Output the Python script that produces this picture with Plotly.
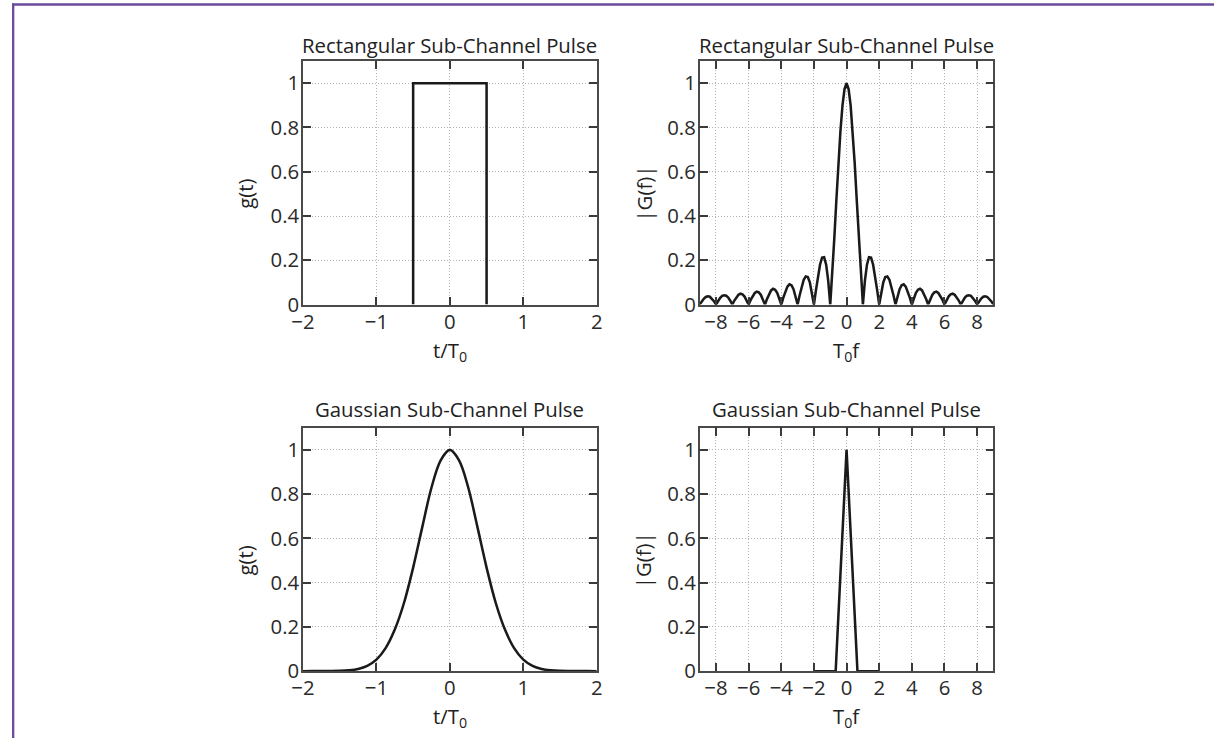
import numpy as np
import plotly.graph_objects as go

# ---------------- data ----------------
# Rectangular pulse g(t)
rect_t = [-0.5, -0.5, 0.5, 0.5]
rect_g = [0, 1, 1, 0]

# |G(f)| of rectangular pulse, sampled every 0.125 for f = 0 .. 9 (symmetric)
rect_G_half = [1.000, 0.974, 0.900, 0.784, 0.637, 0.471, 0.300, 0.139, 0.000,
               0.108, 0.180, 0.214, 0.212, 0.181, 0.129, 0.065, 0.000,
               0.057, 0.100, 0.124, 0.127, 0.112, 0.082, 0.042, 0.000,
               0.039, 0.069, 0.087, 0.091, 0.081, 0.060, 0.031, 0.000,
               0.030, 0.053, 0.067, 0.071, 0.064, 0.047, 0.025, 0.000,
               0.024, 0.043, 0.055, 0.058, 0.052, 0.039, 0.021, 0.000,
               0.020, 0.036, 0.046, 0.049, 0.044, 0.033, 0.018, 0.000,
               0.017, 0.031, 0.040, 0.042, 0.039, 0.029, 0.016, 0.000,
               0.015, 0.027, 0.035, 0.037, 0.034, 0.026, 0.014, 0.000]
rect_f_half = list(np.linspace(0, 9, len(rect_G_half)))

# Gaussian pulse g(t), sampled every 0.125 for t = 0 .. 2 (symmetric)
gauss_g_half = [1.000, 0.953, 0.830, 0.652, 0.468, 0.308, 0.188, 0.104, 0.052,
                0.024, 0.010, 0.004, 0.0015, 0.0005, 0.0002, 0.0001, 0.0000]
gauss_t_half = list(np.linspace(0, 2, len(gauss_g_half)))

# |G(f)| of Gaussian pulse (coarse samples)
gauss_f = [-2, -1.333, -0.667, 0, 0.667, 1.333, 2]
gauss_G = [0, 0, 0, 1, 0, 0, 0]

titles = ["Rectangular Sub-Channel Pulse", "Rectangular Sub-Channel Pulse",
          "Gaussian Sub-Channel Pulse", "Gaussian Sub-Channel Pulse"]
x_titles = ["t/T<sub>0</sub>", "T<sub>0</sub>f", "t/T<sub>0</sub>", "T<sub>0</sub>f"]
y_titles = ["g(t)", "|G(f)|", "g(t)", "|G(f)|"]
t_ticks = [-2, -1, 0, 1, 2]
f_ticks = [-8, -6, -4, -2, 0, 2, 4, 6, 8]
y_ticks = [0, 0.2, 0.4, 0.6, 0.8, 1]


def mirror(xh, yh):
    xs = [-v for v in xh[:0:-1]] + list(xh)
    ys = list(yh[:0:-1]) + list(yh)
    return xs, ys


rect_f, rect_G = mirror(rect_f_half, rect_G_half)
gauss_t, gauss_g = mirror(gauss_t_half, gauss_g_half)

# ---------------- layout geometry ----------------
W, H = 1220, 751
FONT = "Open Sans"
LINE_COL = "#1a1a1a"
# the photographed page comes out slightly reduced and shifted; positions below are
# given in the target picture's pixels and converted to page pixels
SX, OX = 0.986, 10.8
SY, OY = 0.981, 0.0


def tx(p):          # target x pixel -> paper fraction
    return max((p - OX) / SX, 0) / W


def ty(p):          # target y pixel -> paper fraction
    return 1 - ((p - OY) / SY) / H


def sz(v):
    return v / ((SX + SY) / 2)


cols = [(302, 596), (699, 993)]
rows = [(61, 304), (427, 670)]
title_y = [45, 408]
xtitle_y = [350, 716]
ytitle_x = [244, 643]

fig = go.Figure()

series = [(rect_t, rect_g, "linear"), (rect_f, rect_G, "linear"),
          (gauss_t, gauss_g, "spline"), (gauss_f, gauss_G, "linear")]

for i, (xs, ys, shape) in enumerate(series):
    ax = "" if i == 0 else str(i + 1)
    fig.add_trace(go.Scatter(x=xs, y=ys, mode="lines", xaxis="x" + ax, yaxis="y" + ax,
                             line=dict(color=LINE_COL, width=sz(2.5), shape=shape),
                             showlegend=False, hoverinfo="skip"))

common = dict(showline=True, linecolor="#4a4a4a", linewidth=sz(1.5), mirror="ticks",
              ticks="inside", ticklen=sz(8), tickwidth=sz(1.5), tickcolor="#3a3a3a",
              showgrid=True, gridcolor="#b4b4b4", griddash="1px,2px", gridwidth=1,
              zeroline=False, tickfont=dict(family=FONT, size=sz(20), color="#2a2a2a"))

layout = dict(width=W, height=H, margin=dict(l=0, r=0, t=0, b=0, pad=0),
              paper_bgcolor="white", plot_bgcolor="white",
              font=dict(family=FONT, color="#222"))

annotations = []
for i in range(4):
    r, c = divmod(i, 2)
    ax = "" if i == 0 else str(i + 1)
    x0, x1 = cols[c]
    y0, y1 = rows[r]
    if c == 0:
        xr, tv = [-2, 2], t_ticks
    else:
        xr, tv = [-9, 9], f_ticks
    layout["xaxis" + ax] = dict(common, domain=[tx(x0), tx(x1)], range=xr,
                                tickvals=tv, anchor="y" + ax, ticklabelstandoff=-2)
    layout["yaxis" + ax] = dict(common, domain=[ty(y1), ty(y0)], range=[0, 1.1],
                                tickvals=y_ticks, anchor="x" + ax, ticklabelstandoff=-2)
    cx = (x0 + x1) / 2
    annotations.append(dict(text=titles[i], x=tx(cx), y=ty(title_y[r]), xref="paper", yref="paper",
                            showarrow=False, xanchor="center", yanchor="middle",
                            font=dict(family=FONT, size=sz(20), color="#222")))
    annotations.append(dict(text=x_titles[i], x=tx(cx), y=ty(xtitle_y[r]), xref="paper", yref="paper",
                            showarrow=False, xanchor="center", yanchor="middle",
                            font=dict(family=FONT, size=sz(20), color="#222")))
    annotations.append(dict(text=y_titles[i], x=tx(ytitle_x[c]), y=ty((y0 + 22 + y1) / 2), xref="paper",
                            yref="paper", showarrow=False, textangle=-90,
                            xanchor="center", yanchor="middle",
                            font=dict(family=FONT, size=sz(20), color="#222")))

layout["annotations"] = annotations
layout["shapes"] = [
    dict(type="line", xref="paper", yref="paper", x0=0, x1=1, y0=ty(4.5), y1=ty(4.5),
         line=dict(color="#6a4a9c", width=2.3)),
    dict(type="line", xref="paper", yref="paper", x0=1.2 / W, x1=1.2 / W, y0=0, y1=ty(3.5),
         line=dict(color="#6a4a9c", width=2.3)),
]

fig.update_layout(**layout)
fig.write_html("out.html", config={"displayModeBar": False},
               post_script="document.body.style.margin='0';document.body.style.overflow='hidden';")
